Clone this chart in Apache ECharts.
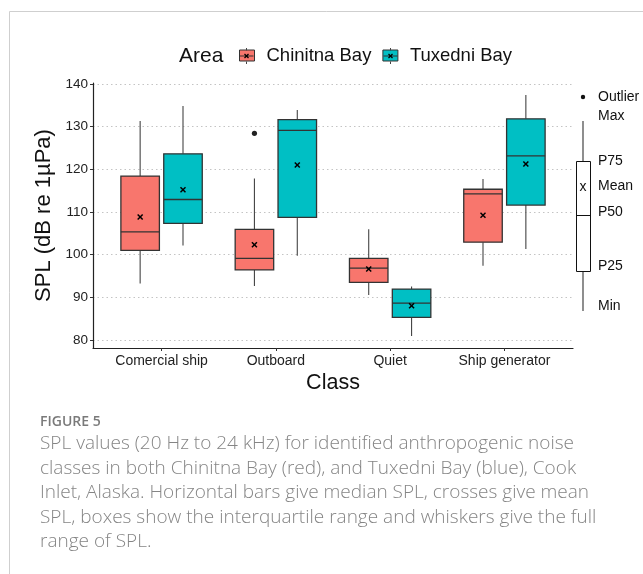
<!DOCTYPE html>
<html>
<head>
<meta charset="utf-8">
<script src="https://cdn.jsdelivr.net/npm/echarts@6/dist/echarts.min.js"></script>
<style>
html,body{margin:0;padding:0;background:#fff;}
#main{width:643px;height:574px;}
</style>
</head>
<body>
<div id="main"></div>
<script>
// ---- data ----
const categories = ['Comercial ship', 'Outboard', 'Quiet', 'Ship generator'];
const yTickValues = [80, 90, 100, 110, 120, 130, 140];

const chinitnaMin  = [93.2, 92.6, 90.5, 97.4];
const chinitnaQ1   = [101.0, 96.4, 93.5, 102.9];
const chinitnaMed  = [105.3, 99.1, 96.8, 114.2];
const chinitnaQ3   = [118.4, 105.9, 99.1, 115.3];
const chinitnaMax  = [131.3, 117.8, 105.9, 117.7];
const chinitnaMean = [108.8, 102.3, 96.6, 109.2];
const chinitnaOutliers = [null, 128.4, null, null];

const tuxedniMin  = [102.1, 99.7, 80.9, 101.3];
const tuxedniQ1   = [107.3, 108.7, 85.3, 111.6];
const tuxedniMed  = [112.9, 129.1, 88.6, 123.1];
const tuxedniQ3   = [123.6, 131.6, 91.9, 131.8];
const tuxedniMax  = [134.8, 133.9, 92.5, 137.4];
const tuxedniMean = [115.2, 121.0, 88.0, 121.2];
const tuxedniOutliers = [null, null, null, null];

// ---- build ----
function boxRows(mn, q1, md, q3, mx, mean) {
  return categories.map((c, i) => [i + 1, mn[i], q1[i], md[i], q3[i], mx[i], mean[i]]);
}
function outRows(arr) {
  const r = [];
  arr.forEach((v, i) => { if (v != null) r.push([i + 1, v]); });
  return r;
}
const BOX_W = 0.337;
const DODGE = 0.1875;
const STROKE = '#333333';

function makeBoxRender(offset, fill) {
  return function (params, api) {
    const x = api.value(0) + offset;
    const cx = api.coord([x, 0])[0];
    const bw = api.size([BOX_W, 0])[0];
    const yMin = api.coord([x, api.value(1)])[1];
    const yQ1 = api.coord([x, api.value(2)])[1];
    const yMed = api.coord([x, api.value(3)])[1];
    const yQ3 = api.coord([x, api.value(4)])[1];
    const yMax = api.coord([x, api.value(5)])[1];
    const yMean = api.coord([x, api.value(6)])[1];
    const s = 2.5;
    return {
      type: 'group',
      children: [
        { type: 'line', shape: { x1: cx, y1: yQ3, x2: cx, y2: yMax }, style: { stroke: '#444', lineWidth: 1.1 } },
        { type: 'line', shape: { x1: cx, y1: yQ1, x2: cx, y2: yMin }, style: { stroke: '#444', lineWidth: 1.1 } },
        { type: 'rect', shape: { x: cx - bw / 2, y: yQ3, width: bw, height: yQ1 - yQ3 }, style: { fill: fill, stroke: STROKE, lineWidth: 1.3 } },
        { type: 'line', shape: { x1: cx - bw / 2, y1: yMed, x2: cx + bw / 2, y2: yMed }, style: { stroke: STROKE, lineWidth: 1.3 } },
        { type: 'line', shape: { x1: cx - s, y1: yMean - s, x2: cx + s, y2: yMean + s }, style: { stroke: '#000', lineWidth: 1.5 } },
        { type: 'line', shape: { x1: cx - s, y1: yMean + s, x2: cx + s, y2: yMean - s }, style: { stroke: '#000', lineWidth: 1.5 } }
      ]
    };
  };
}
function makeOutRender(offset) {
  return function (params, api) {
    const p = api.coord([api.value(0) + offset, api.value(1)]);
    return { type: 'circle', shape: { cx: p[0], cy: p[1], r: 2.6 }, style: { fill: '#222' } };
  };
}

const RED = '#F8766D', TEAL = '#00BFC4';
const FONT = 'Liberation Sans, Arial, sans-serif';
const CAP = '"Open Sans", Lato, sans-serif';

const captionLines = [
  'SPL values (20 Hz to 24 kHz) for identified anthropogenic noise',
  'classes in both Chinitna Bay (red), and Tuxedni Bay (blue), Cook',
  'Inlet, Alaska. Horizontal bars give median SPL, crosses give mean',
  'SPL, boxes show the interquartile range and whiskers give the full',
  'range of SPL.'
];

const graphics = [
  { type: 'line', shape: { x1: 9.5, y1: 11.5, x2: 643, y2: 11.5 }, style: { stroke: '#cfcfcf', lineWidth: 1 } },
  { type: 'line', shape: { x1: 9.5, y1: 11.5, x2: 9.5, y2: 574 }, style: { stroke: '#cfcfcf', lineWidth: 1 } },
  { type: 'text', left: 40, top: 415, style: { text: 'FIGURE 5', font: '600 14px ' + CAP, fill: '#7a7a7a' } }
];
captionLines.forEach((t, i) => {
  graphics.push({ type: 'text', left: 40, top: 434 + i * 24.6, style: { text: t, font: '300 19px ' + CAP, fill: '#858585' } });
});
// legend key glyph decorations (whisker ends, median, mean cross)
function legendGlyph(cx, cy) {
  const s = 2;
  return [
    { type: 'line', z: 20, shape: { x1: cx, y1: cy - 8, x2: cx, y2: cy - 5.5 }, style: { stroke: '#444', lineWidth: 1 } },
    { type: 'line', z: 20, shape: { x1: cx, y1: cy + 5.5, x2: cx, y2: cy + 8 }, style: { stroke: '#444', lineWidth: 1 } },
    { type: 'line', z: 20, shape: { x1: cx - 7, y1: cy, x2: cx + 7, y2: cy }, style: { stroke: '#333', lineWidth: 1 } },
    { type: 'line', z: 20, shape: { x1: cx - s, y1: cy - s, x2: cx + s, y2: cy + s }, style: { stroke: '#000', lineWidth: 1.3 } },
    { type: 'line', z: 20, shape: { x1: cx - s, y1: cy + s, x2: cx + s, y2: cy - s }, style: { stroke: '#000', lineWidth: 1.3 } }
  ];
}
graphics.push(...legendGlyph(246.5, 56), ...legendGlyph(390.5, 56));
// key schematic
const kx = 583;
graphics.push(
  { type: 'circle', shape: { cx: kx, cy: 97, r: 2.2 }, style: { fill: '#111' } },
  { type: 'line', shape: { x1: kx, y1: 121, x2: kx, y2: 161 }, style: { stroke: '#444', lineWidth: 1.2 } },
  { type: 'line', shape: { x1: kx, y1: 272, x2: kx, y2: 311 }, style: { stroke: '#444', lineWidth: 1.2 } },
  { type: 'rect', shape: { x: 576.5, y: 161.5, width: 14, height: 110 }, style: { fill: '#fff', stroke: '#111', lineWidth: 1 } },
  { type: 'line', shape: { x1: 576.5, y1: 215.5, x2: 591, y2: 215.5 }, style: { stroke: '#111', lineWidth: 1 } },
  { type: 'text', x: kx, y: 187, style: { text: 'x', font: '14px ' + FONT, fill: '#111', align: 'center', verticalAlign: 'middle' } }
);
[['Outlier', 97], ['Max', 116], ['P75', 161], ['Mean', 186], ['P50', 212], ['P25', 266], ['Min', 306]].forEach(([t, y]) => {
  graphics.push({ type: 'text', x: 598, y: y, style: { text: t, font: '14px ' + FONT, fill: '#111', verticalAlign: 'middle' } });
});

const option = {
  animation: false,
  backgroundColor: '#fff',
  title: { text: 'Area', left: 174, top: 41, textStyle: { fontFamily: FONT, fontSize: 21, fontWeight: 'normal', color: '#111' } },
  legend: {
    left: 234, top: 41, itemWidth: 15, itemHeight: 11, itemGap: 11,
    textStyle: { fontFamily: FONT, fontSize: 18.5, color: '#111', padding: [0, 0, 0, 7] },
    data: [
      { name: 'Chinitna Bay', icon: 'rect', itemStyle: { color: RED, borderColor: STROKE, borderWidth: 1 } },
      { name: 'Tuxedni Bay', icon: 'rect', itemStyle: { color: TEAL, borderColor: STROKE, borderWidth: 1 } }
    ]
  },
  grid: { left: 93, right: 70, top: 83, bottom: 226, containLabel: false },
  xAxis: {
    type: 'value', min: 0.4, max: 4.6,
    name: 'Class', nameLocation: 'middle', nameGap: 24,
    nameTextStyle: { fontFamily: FONT, fontSize: 21.5, color: '#111' },
    axisLine: { show: true, lineStyle: { color: '#222', width: 1.2 } },
    axisTick: { show: true, length: 3, customValues: [1, 2, 3, 4], lineStyle: { color: '#333' } },
    axisLabel: { customValues: [1, 2, 3, 4], formatter: v => categories[Math.round(v) - 1] || '', fontFamily: FONT, fontSize: 14, color: '#222', margin: 6 },
    splitLine: { show: false }
  },
  yAxis: {
    type: 'value', min: 78.1, max: 140.2,
    name: 'SPL (dB re 1\u00B5Pa)', nameLocation: 'middle', nameGap: 30,
    nameTextStyle: { fontFamily: FONT, fontSize: 22, color: '#111' },
    axisLine: { show: true, lineStyle: { color: '#222', width: 1.2 } },
    axisTick: { show: true, length: 3, customValues: yTickValues, lineStyle: { color: '#333' } },
    axisLabel: { customValues: yTickValues, fontFamily: FONT, fontSize: 13.5, color: '#222', margin: 5 },
    splitLine: { show: true, lineStyle: { color: '#c4c4c4', width: 1, type: [1.5, 3] } }
  },
  series: [
    { name: 'Chinitna Bay', type: 'custom', itemStyle: { color: RED }, renderItem: makeBoxRender(-DODGE, RED), data: boxRows(chinitnaMin, chinitnaQ1, chinitnaMed, chinitnaQ3, chinitnaMax, chinitnaMean), encode: { x: 0, y: [1, 5] }, z: 3 },
    { name: 'Tuxedni Bay', type: 'custom', itemStyle: { color: TEAL }, renderItem: makeBoxRender(DODGE, TEAL), data: boxRows(tuxedniMin, tuxedniQ1, tuxedniMed, tuxedniQ3, tuxedniMax, tuxedniMean), encode: { x: 0, y: [1, 5] }, z: 3 },
    { name: 'Chinitna Bay', type: 'custom', renderItem: makeOutRender(-DODGE), data: outRows(chinitnaOutliers), encode: { x: 0, y: 1 }, z: 4 },
    { name: 'Tuxedni Bay', type: 'custom', renderItem: makeOutRender(DODGE), data: outRows(tuxedniOutliers), encode: { x: 0, y: 1 }, z: 4 }
  ],
  graphic: graphics
};
const chart = echarts.init(document.getElementById('main'), null, { renderer: 'canvas' });
chart.setOption(option);
</script>
</body>
</html>
